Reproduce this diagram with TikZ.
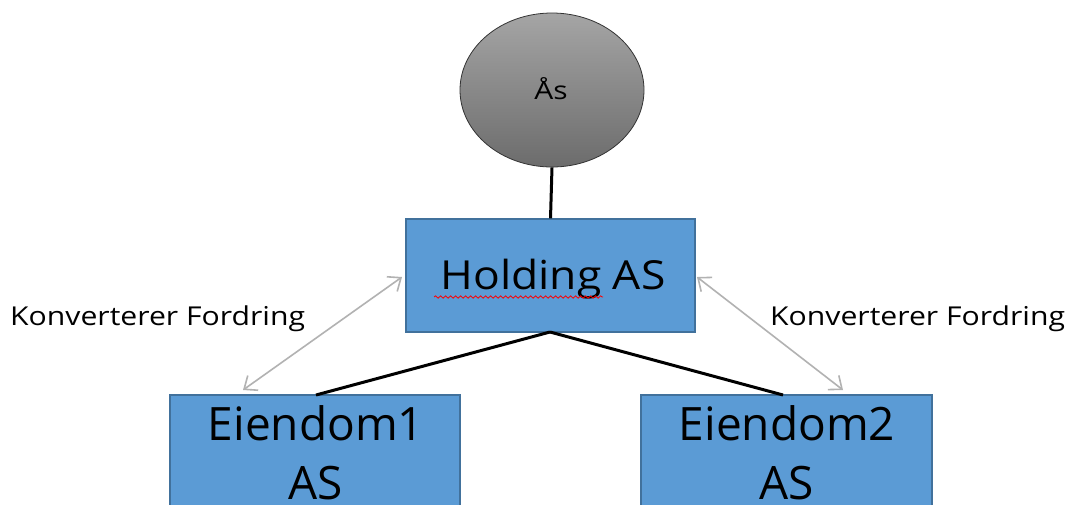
\documentclass[tikz,border=0pt]{standalone}
\usepackage{fontspec}
\usepackage{graphicx}
\setmainfont{Open Sans}
\usetikzlibrary{arrows.meta,shapes.geometric,decorations.pathmorphing}
\definecolor{boxblue}{RGB}{91,155,213}
\definecolor{boxedge}{RGB}{65,113,156}
\definecolor{arrgray}{RGB}{178,178,178}
\definecolor{elltop}{RGB}{165,165,165}
\definecolor{ellbot}{RGB}{108,108,108}
\tikzset{
  company/.style={draw=boxedge, line width=1.2pt, fill=boxblue, inner sep=0pt},
  ctext/.style={inner sep=0pt, align=center, anchor=base},
  owner/.style={ellipse, draw=black!80, line width=0.8pt, top color=elltop, bottom color=ellbot, inner sep=0pt, minimum width=184pt, minimum height=154pt},
  tie/.style={line width=3pt, black},
  conv/.style={arrgray, line width=1.6pt, {Straight Barb[length=11pt,width=18pt]}-{Straight Barb[length=11pt,width=18pt]}},
  lbl/.style={font=\fontsize{26}{30}\selectfont, inner sep=0pt, anchor=base west}
}
\begin{document}
\begin{tikzpicture}[x=1pt,y=-1pt]
\useasboundingbox (0,0) rectangle (1070,504);
\clip (0,0) rectangle (1070,504);
\fill[white] (0,0) rectangle (1070,504);
\node[owner] (aas) at (552,90) {};
\node[ctext, font=\fontsize{25}{30}\selectfont] (aast) at (551,99) {\scalebox{1.2}[1]{Ås}};
\node[company, minimum width=289pt, minimum height=113pt] (hold) at (550.5,275.5) {};
\node[ctext, font=\fontsize{40}{48}\selectfont] (holdt) at (553,289) {\scalebox{1.11}[1]{Holding AS}};
\node[company, minimum width=290pt, minimum height=118pt] (e1) at (315,454) {};
\node[company, minimum width=291pt, minimum height=118pt] (e2) at (786.5,454) {};
\node[ctext, font=\fontsize{46}{59}\selectfont] (e1t) at (316,499) {Eiendom1\\AS};
\node[ctext, font=\fontsize{46}{59}\selectfont] (e2t) at (787,499) {Eiendom2\\AS};
\draw[tie] (aas.south) -- (hold.north);
\coordinate (hb) at (550,332);
\coordinate (e1c) at (316,395);
\coordinate (e2c) at (783,395);
\draw[tie] (hb) -- (e1c);
\draw[tie] (hb) -- (e2c);
\coordinate (la) at (402,277);
\coordinate (lb) at (243,390);
\coordinate (ra) at (697,277);
\coordinate (rb) at (843,390);
\draw[conv] (la) -- (lb);
\draw[conv] (ra) -- (rb);
\node[lbl] (l1) at (10,325) {\scalebox{1.16}[1]{Konverterer Fordring}};
\node[lbl] (l2) at (770,325) {\scalebox{1.16}[1]{Konverterer Fordring}};
\coordinate (sq1) at (434,297);
\coordinate (sq2) at (603,297);
\draw[red, line width=0.8pt, decorate, decoration={snake, amplitude=1.2pt, segment length=5pt}] (sq1) -- (sq2);
\end{tikzpicture}
\end{document}
